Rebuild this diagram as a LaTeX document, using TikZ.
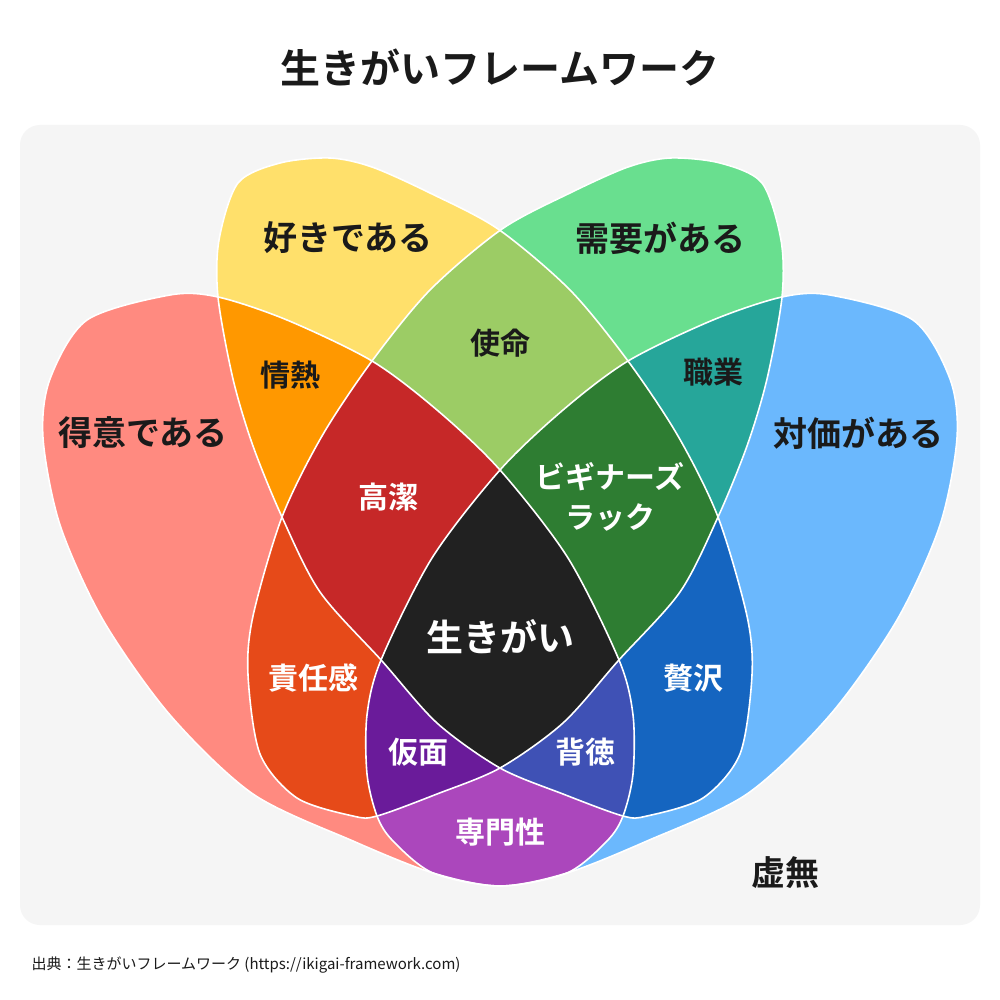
\documentclass[tikz,border=0pt]{standalone}
\usepackage{fontspec}
\setmainfont{Noto Sans CJK JP}[BoldFont={Noto Sans CJK JP Bold}]
\definecolor{cR}{HTML}{FF8A80}
\definecolor{cY}{HTML}{FFE06B}
\definecolor{cG}{HTML}{69DF8F}
\definecolor{cB}{HTML}{6BB8FD}
\definecolor{cYR}{HTML}{FF9800}
\definecolor{cYG}{HTML}{9CCC65}
\definecolor{cGB}{HTML}{26A69A}
\definecolor{cRB}{HTML}{AB47BC}
\definecolor{cGR}{HTML}{E64A19}
\definecolor{cYB}{HTML}{1565C0}
\definecolor{cYGR}{HTML}{C62828}
\definecolor{cYGB}{HTML}{2E7D32}
\definecolor{cGRB}{HTML}{6A1B9A}
\definecolor{cYRB}{HTML}{3F51B5}
\definecolor{cAll}{HTML}{212121}
\definecolor{ink}{HTML}{1A1A1A}
\newcommand\pR{plot[smooth cycle] coordinates{(170,295)(218,297)(287,320)(372,361)(437,410)(500,470)(568,558)(619,660)(633,715)(633,774)(623,816)(607,841)(567,873)(500,886)(433,873)(353,841)(253,794)(170,715)(103,620)(60,525)(43,438)(50,379)(87,320)}}
\newcommand\pB{plot[smooth cycle] coordinates{(830,295)(782,297)(713,320)(628,361)(563,410)(500,470)(432,558)(381,660)(367,715)(367,774)(377,816)(393,841)(433,873)(500,886)(567,873)(647,841)(747,794)(830,715)(897,620)(940,525)(957,438)(950,379)(913,320)}}
\newcommand\pY{plot[smooth cycle] coordinates{(218,297)(219,240)(238,183)(280,163)(330,158)(372,167)(430,193)(498,229)(570,290)(628,361)(678,436)(718,517)(747,616)(752,675)(740,754)(703,798)(647,816)(623,816)(563,794)(500,768)(437,723)(382,661)(320,592)(282,517)(253,446)(233,379)}}
\newcommand\pG{plot[smooth cycle] coordinates{(782,297)(781,240)(762,183)(720,163)(670,158)(628,167)(570,193)(502,229)(430,290)(372,361)(322,436)(282,517)(253,616)(248,675)(260,754)(297,798)(353,816)(377,816)(437,794)(500,768)(563,723)(618,661)(680,592)(718,517)(747,446)(767,379)}}
\newcommand\two[3]{\begin{scope}\clip #1;\fill[#3] #2;\end{scope}}
\newcommand\three[4]{\begin{scope}\clip #1;\clip #2;\fill[#4] #3;\end{scope}}
\begin{document}
\begin{tikzpicture}[x=1pt,y=-1pt,
  lab/.style={font=\bfseries\fontsize{30}{34}\selectfont,text=ink},
  wlab/.style={font=\bfseries\fontsize{30}{34}\selectfont,text=white},
  big/.style={font=\bfseries\fontsize{34}{38}\selectfont,text=ink}]
\useasboundingbox (0,0) rectangle (1000,1000);
\fill[white] (0,0) rectangle (1000,1000);
\fill[fill={rgb,255:red,245;green,245;blue,245}] (20,125) [rounded corners=20] rectangle (980,925);
\node[font=\bfseries\fontsize{40}{44}\selectfont,text=ink] (title) at (500,68) {生きがいフレームワーク};
\fill[cR] \pR; \fill[cB] \pB; \fill[cY] \pY; \fill[cG] \pG;
\two{\pY}{\pR}{cYR}
\two{\pY}{\pG}{cYG}
\two{\pG}{\pB}{cGB}
\two{\pR}{\pB}{cRB}
\two{\pG}{\pR}{cGR}
\two{\pY}{\pB}{cYB}
\three{\pY}{\pG}{\pR}{cYGR}
\three{\pY}{\pG}{\pB}{cYGB}
\three{\pG}{\pR}{\pB}{cGRB}
\three{\pY}{\pR}{\pB}{cYRB}
\begin{scope}\clip \pY; \clip \pG; \clip \pR; \fill[cAll] \pB;\end{scope}
\draw[white,line width=1.6] \pR; \draw[white,line width=1.6] \pB;
\draw[white,line width=1.6] \pY; \draw[white,line width=1.6] \pG;
\node[big] (love) at (348,238) {好きである};
\node[big] (need) at (660,238) {需要がある};
\node[big] (good) at (143,433) {得意である};
\node[big] (paid) at (858,433) {対価がある};
\node[lab] (passion) at (290,375) {情熱};
\node[lab] (mission) at (500,343) {使命};
\node[lab] (vocation) at (713,372) {職業};
\node[wlab] (noble) at (388,497) {高潔};
\node[wlab,align=center,font=\bfseries\fontsize{30}{40}\selectfont] (luck) at (610,497) {ビギナーズ\\ラック};
\node[wlab,font=\bfseries\fontsize{37}{40}\selectfont] (ikigai) at (500,637) {生きがい};
\node[wlab] (duty) at (313,678) {責任感};
\node[wlab] (luxury) at (693,678) {贅沢};
\node[wlab] (mask) at (418,752) {仮面};
\node[wlab] (immoral) at (585,752) {背徳};
\node[wlab] (prof) at (500,832) {専門性};
\node[big] (void) at (785,873) {虚無};
\node[anchor=west,font=\fontsize{15}{18}\selectfont,text=ink] (src) at (28,965) {出典：生きがいフレームワーク (https://ikigai-framework.com)};
\end{tikzpicture}
\end{document}
